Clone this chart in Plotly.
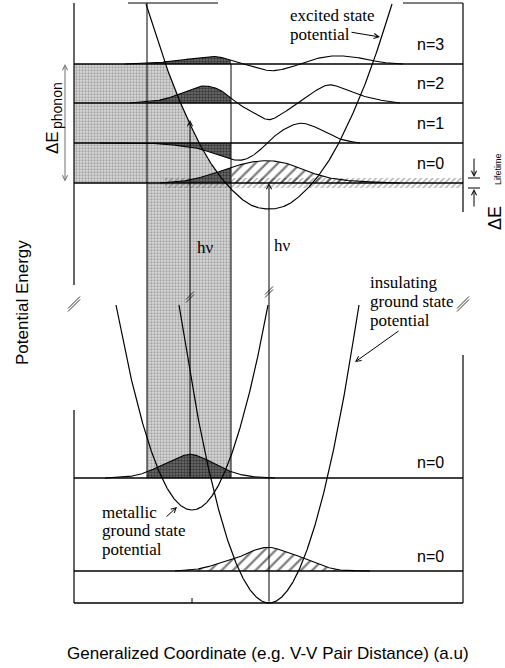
import numpy as np
import plotly.graph_objects as go

# Coordinates: x = generalized coordinate (a.u., 0 at left frame), E = potential energy (a.u., 0 at bottom frame)
FRAME_W, FRAME_H = 389, 600

# vibrational levels
E_exc_levels = [420, 460, 500, 539]      # excited state n=0..3
E_met_level = 125                         # metallic ground state n=0
E_ins_level = 32                          # insulating ground state n=0
level_labels = ["n=0", "n=1", "n=2", "n=3"]

# potential curves
exc_x = [72, 85, 100, 115, 130, 145, 160, 175, 195, 215, 230, 245, 260, 275, 290, 305, 318]
exc_E = [599, 558, 516, 481, 451, 428, 411, 399, 394, 399, 411, 428, 451, 481, 516, 558, 599]
met_x = [42, 53, 68, 83, 98, 118, 138, 153, 168, 183, 194]
met_E = [298, 243, 182, 136.5, 107, 93, 107, 136.5, 182, 243, 298]
ins_x = [105, 120, 135, 150, 165, 180, 195, 210, 225, 240, 255, 270, 285]
ins_E = [298, 207, 132.5, 74.5, 33, 8.3, 0, 8.3, 33, 74.5, 132.5, 207, 298]

# vibrational wavefunctions (amplitude above each level)
psi3_x = [51, 71, 91, 116, 143, 158, 171, 181, 198, 214, 226, 241, 258, 286, 306, 329]
psi3_a = [0, 0.7, 2, 5, 7.3, 3.5, -0.5, -3.5, -6.7, -4, 0, 5, 8, 6, 2, 0]
psi2_x = [56, 76, 91, 106, 131, 146, 157, 166, 176, 196, 209, 224, 238, 254, 271, 286, 306, 326]
psi2_a = [0, 1.5, 4, 9.4, 17, 13, 5, -2, -7.3, -16.6, -10, 0, 10, 18, 14, 8, 3, 0]
psi1_x = [26, 66, 99, 126, 146, 158, 168, 178, 186, 193, 206, 226, 246, 266, 286]
psi1_a = [0, 0, -2, -6, -12.7, -16.5, -17, -13, -7, 0, 11, 19.7, 14, 4, 0]
psi0_x = [86, 106, 133, 158, 176, 194, 211, 236, 256, 276, 306, 326]
psi0_a = [0, 1.5, 7.3, 15.7, 20.7, 22.3, 20, 10.7, 5, 2.3, 0.7, 0]
met_psi_x = [31, 46, 61, 73, 86, 101, 116, 131, 146, 158, 171, 186, 201]
met_psi_a = [0, 0.7, 2.5, 6, 12, 19, 23.7, 19, 11, 6, 2.5, 0.7, 0]
ins_psi_x = [101, 116, 129, 146, 163, 178, 194, 210, 229, 246, 263, 281, 296]
ins_psi_a = [0, 1, 3, 8, 13, 20, 23.7, 20, 13, 6, 1.5, 0.3, 0]

# Franck-Condon window and transitions
fc_left, fc_right = 73, 157
hv_met_x, hv_ins_x = 116, 195
hv_met_top = 483
lifetime_band = (415, 425)


def smooth(xs, ys, n=400):
    """Cubic Hermite curve through the given points (x increasing)."""
    xs = np.asarray(xs, float)
    ys = np.asarray(ys, float)
    m = np.gradient(ys, xs)
    xx = np.linspace(xs[0], xs[-1], n)
    i = np.clip(np.searchsorted(xs, xx) - 1, 0, len(xs) - 2)
    h = xs[i + 1] - xs[i]
    t = (xx - xs[i]) / h
    h00 = 2 * t**3 - 3 * t**2 + 1
    h10 = t**3 - 2 * t**2 + t
    h01 = -2 * t**3 + 3 * t**2
    h11 = t**3 - t**2
    yy = h00 * ys[i] + h10 * h * m[i] + h01 * ys[i + 1] + h11 * h * m[i + 1]
    return xx, yy


fig = go.Figure()

light = dict(shape=".", fgcolor="#6e6e6e", bgcolor="#dadada", size=3, solidity=0.45)
dark = dict(shape=".", fgcolor="#000000", bgcolor="#707070", size=3, solidity=0.5)
hatch = dict(shape="/", fgcolor="#000000", bgcolor="rgba(255,255,255,0)", size=8, solidity=0.28)
band_hatch = dict(shape="/", fgcolor="#555555", bgcolor="rgba(255,255,255,0)", size=4, solidity=0.35)


def poly(xs, ys, pattern):
    fig.add_trace(go.Scatter(x=list(xs), y=list(ys), mode="lines", fill="toself",
                             line=dict(width=0, color="rgba(0,0,0,0)"),
                             fillcolor="rgba(0,0,0,0)", fillpattern=pattern,
                             hoverinfo="skip"))


def line(xs, ys, width=1.1, color="black", dash=None):
    fig.add_trace(go.Scatter(x=list(xs), y=list(ys), mode="lines",
                             line=dict(width=width, color=color, dash=dash),
                             hoverinfo="skip"))


# stippled region: energy window left of the excited potential plus the Franck-Condon column
ex_xx, ex_yy = smooth(exc_x, exc_E, 800)
sel = (ex_xx < exc_x[exc_E.index(min(exc_E))]) & (ex_yy >= E_exc_levels[0]) & (ex_yy <= E_exc_levels[3])
bx, by = ex_xx[sel], ex_yy[sel]
px_ = [0] + list(bx) + [fc_right, fc_right, fc_left, fc_left, 0]
py_ = [E_exc_levels[3]] + list(by) + [E_exc_levels[0], E_met_level, E_met_level, E_exc_levels[0], E_exc_levels[0]]
poly(px_, py_, light)

# lifetime broadening band of the excited n=0 level
poly([91, FRAME_W, FRAME_W, 91], [lifetime_band[0]] * 2 + [lifetime_band[1]] * 2, band_hatch)

waves = [(psi0_x, psi0_a, E_exc_levels[0]), (psi1_x, psi1_a, E_exc_levels[1]),
         (psi2_x, psi2_a, E_exc_levels[2]), (psi3_x, psi3_a, E_exc_levels[3])]
wave_curves = []
for wx, wa, base in waves:
    xx, aa = smooth(wx, wa)
    wave_curves.append((xx, aa + base, base))

# dark fill of the wavefunctions inside the Franck-Condon window
for xx, yy, base in wave_curves:
    m = (xx >= fc_left) & (xx <= fc_right)
    poly([fc_left] + list(xx[m]) + [fc_right], [base] + list(yy[m]) + [base], dark)

mxx, maa = smooth(met_psi_x, met_psi_a)
myy = maa + E_met_level
m = (mxx >= fc_left) & (mxx <= fc_right)
poly([fc_left] + list(mxx[m]) + [fc_right], [E_met_level] + list(myy[m]) + [E_met_level], dark)

# hatched n=0 densities outside the window
xx0, yy0, b0 = wave_curves[0]
m = xx0 >= fc_right
poly([fc_right] + list(xx0[m]) + [xx0[m][-1]], [b0] + list(yy0[m]) + [b0], hatch)
ixx, iaa = smooth(ins_psi_x, ins_psi_a)
iyy = iaa + E_ins_level
poly(list(ixx), list(iyy), hatch)

# level lines
for E in E_exc_levels + [E_met_level, E_ins_level]:
    line([0, FRAME_W], [E, E], width=1.3)

# wavefunction outlines
for xx, yy, base in wave_curves:
    line(xx, yy, width=1.1)
line(mxx, myy, width=1.1)
line(ixx, iyy, width=1.1)

# potential curves
line(ex_xx, ex_yy, width=1.2)
for cx, cy in [(met_x, met_E), (ins_x, ins_E)]:
    xx, yy = smooth(cx, cy, 600)
    line(xx, yy, width=1.2)

# window edges
line([fc_left, fc_left], [FRAME_H, E_met_level], width=1)
line([fc_right, fc_right], [E_exc_levels[3], E_met_level], width=1)

# frame (broken energy axis)
line([0, FRAME_W], [0, 0], width=1.3)
line([54, 144], [FRAME_H, FRAME_H], width=1.2)
line([329, FRAME_W], [FRAME_H, FRAME_H], width=1.2)
line([0, 0], [FRAME_H, 318], width=1.2)
line([0, 0], [193, 0], width=1.2)
line([FRAME_W, FRAME_W], [FRAME_H, 391], width=1.2)
line([FRAME_W, FRAME_W], [248, 0], width=1.2)
line([118, 118], [0, 5], width=1)

# axis-break marks
for bx0, by0, s in [(0, 299, 6), (FRAME_W, 299, 6), (hv_met_x, 306, 4), (hv_ins_x, 311, 4)]:
    for off in (-1.5, 1.5):
        line([bx0 - s, bx0 + s], [by0 - s + off, by0 + s + off], width=1, color="#333")

# lifetime markers
line([394, 406], [425, 425], width=1)
line([394, 406], [415, 415], width=1)

annotations = []


def arrow(x0, y0, x1, y1, color="black", both=False, head=5, size=1.0, width=1):
    annotations.append(dict(x=x1, y=y1, ax=x0, ay=y0, xref="x", yref="y", axref="x", ayref="y",
                            showarrow=True, arrowhead=head, arrowsize=size, arrowwidth=width,
                            arrowcolor=color, text="", standoff=0, startstandoff=0,
                            arrowside="end+start" if both else "end", startarrowhead=head,
                            startarrowsize=size))


def text(x, y, s, size=17, family="Liberation Serif", anchor="left", angle=0, color="black"):
    annotations.append(dict(x=x, y=y, xref="x", yref="y", text=s, showarrow=False,
                            xanchor=anchor, yanchor="middle", textangle=angle,
                            font=dict(family=family, size=size, color=color)))


# transitions
arrow(hv_met_x, E_met_level, hv_met_x, hv_met_top)
arrow(hv_ins_x, 0, hv_ins_x, E_exc_levels[0])
text(121, 356, "h\u03bd")
text(198, 358, "h\u03bd")

# phonon energy span
arrow(-9, E_exc_levels[0], -9, E_exc_levels[3], color="#707070", both=True, head=5)
text(-22, 460, "\u0394E", size=17, family="Liberation Sans", anchor="center", angle=-90)
text(-17, 497, "phonon", size=14, family="Liberation Sans", anchor="center", angle=-90)

# lifetime width
arrow(400, 446, 400, 426)
arrow(400, 395, 400, 414)
text(421, 385, "\u0394E", size=18, family="Liberation Sans", anchor="center", angle=-90)
text(424, 434, "Lifetime", size=9, family="Liberation Sans", anchor="center", angle=-90)

# curve labels
text(214, 588, "excited state")
text(214, 569, "potential")
arrow(276, 571, 306, 566)
text(294, 321, "insulating")
text(294, 302, "ground state")
text(294, 283, "potential")
arrow(326, 273, 281, 241)
text(26, 91, "metallic")
text(26, 73, "ground state")
text(26, 54, "potential")
arrow(91, 85, 103, 96)

# level labels
for E, lab in zip(E_exc_levels, level_labels):
    text(341, E + 20, lab, size=16, family="Liberation Sans")
text(341, E_met_level + 16, "n=0", size=16, family="Liberation Sans")
text(341, E_ins_level + 15, "n=0", size=16, family="Liberation Sans")

# axis titles
text(-52, 300, "Potential Energy", size=17, family="Liberation Sans", anchor="center", angle=-90)
text(194, -50, "Generalized Coordinate (e.g. V-V Pair Distance) (a.u)", size=17,
     family="Liberation Sans", anchor="center")

fig.update_layout(
    width=505, height=668, margin=dict(l=0, r=0, t=0, b=0),
    paper_bgcolor="white", plot_bgcolor="white", showlegend=False,
    xaxis=dict(range=[-74, 431], visible=False, fixedrange=True),
    yaxis=dict(range=[-65, 603], visible=False, fixedrange=True),
    annotations=annotations,
)

fig.write_html("out.html")
